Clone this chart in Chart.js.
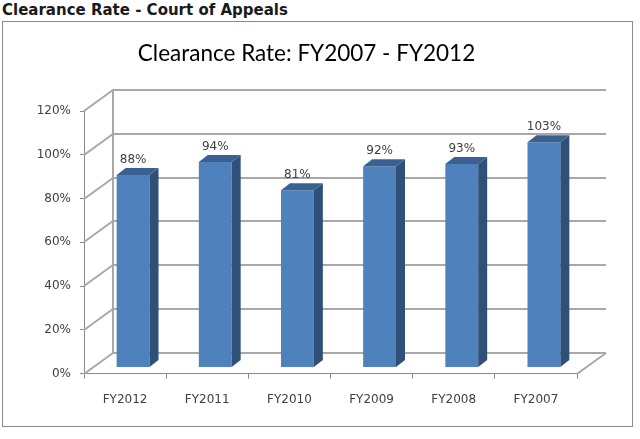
<!DOCTYPE html>
<html lang="en">
<head>
  <meta charset="UTF-8" />
  <title>Clearance Rate - Court of Appeals</title>
  <script src="https://cdn.jsdelivr.net/npm/chart.js"></script>
  <style>
    html, body {
      margin: 0;
      padding: 0;
      background: #ffffff;
    }
    body {
      width: 640px;
      height: 439px;
      position: relative;
      overflow: hidden;
      font-family: 'DejaVu Sans', sans-serif;
    }
    .heading {
      position: absolute;
      left: 2px;
      top: 0;
      font-size: 15px;
      font-weight: bold;
      line-height: 20px;
      color: #1a1a1a;
      white-space: nowrap;
    }
    .box {
      position: absolute;
      left: 2px;
      top: 21px;
      width: 629px;
      height: 404px;
      border: 1px solid #8a8a8a;
    }
    .box canvas { display: block; }
  </style>
</head>
<body>
  <div class="heading">Clearance Rate - Court of Appeals</div>
  <div class="box"><canvas id="rateChart" width="629" height="404"></canvas></div>

  <script>
    // data
    const fiscalYears = ["FY2012", "FY2011", "FY2010", "FY2009", "FY2008", "FY2007"];
    const clearanceRates = [88, 94, 81, 92, 93, 103];
    const yTicks = [0, 20, 40, 60, 80, 100, 120];

    // fake 3D look (pixel offsets)
    const WALL = { dx: 29, dy: -21 };      // back wall depth
    const SHIFT = { dx: 8, dy: -6 };       // bars sit a bit behind the front axis
    const DEPTH = { dx: 9, dy: -7 };       // bar thickness
    const FRONT = "#4f81bd", SIDE = "#2f5179", TOP = "#3b6193";

    const threeD = {
      id: "threeD",
      beforeDatasetsDraw(chart) {
        const { ctx, chartArea: a, scales: { y } } = chart;
        ctx.save();
        ctx.strokeStyle = "#a8a8a8";
        ctx.lineWidth = 2;
        ctx.beginPath();
        yTicks.forEach(v => {
          const py = Math.round(y.getPixelForValue(v));
          ctx.moveTo(a.left, py);
          ctx.lineTo(a.left + WALL.dx, py + WALL.dy);
          ctx.lineTo(a.right + WALL.dx, py + WALL.dy);
        });
        const bx = Math.round(a.left) + WALL.dx;
        ctx.moveTo(bx, Math.round(a.top) + WALL.dy);
        ctx.lineTo(bx, Math.round(a.bottom) + WALL.dy);
        ctx.moveTo(a.right, Math.round(a.bottom));
        ctx.lineTo(a.right + WALL.dx, Math.round(a.bottom) + WALL.dy);
        ctx.stroke();
        ctx.restore();
      },
      beforeDatasetDraw(chart) {
        chart.ctx.save();
        chart.ctx.translate(SHIFT.dx, SHIFT.dy);
      },
      afterDatasetDraw(chart, args) {
        const ctx = chart.ctx;
        args.meta.data.forEach((bar, i) => {
          const { x, y, base, width } = bar.getProps(["x", "y", "base", "width"], true);
          const l = x - width / 2, r = x + width / 2;
          // side face
          ctx.fillStyle = SIDE;
          ctx.beginPath();
          ctx.moveTo(r, y);
          ctx.lineTo(r + DEPTH.dx, y + DEPTH.dy);
          ctx.lineTo(r + DEPTH.dx, base + DEPTH.dy);
          ctx.lineTo(r, base);
          ctx.closePath();
          ctx.fill();
          // top face
          ctx.fillStyle = TOP;
          ctx.beginPath();
          ctx.moveTo(l, y);
          ctx.lineTo(l + DEPTH.dx, y + DEPTH.dy);
          ctx.lineTo(r + DEPTH.dx, y + DEPTH.dy);
          ctx.lineTo(r, y);
          ctx.closePath();
          ctx.fill();
          // value label
          ctx.fillStyle = "#404040";
          ctx.font = '12px "DejaVu Sans"';
          ctx.textAlign = "center";
          ctx.textBaseline = "bottom";
          ctx.fillText(clearanceRates[i] + "%", x, y + DEPTH.dy - 2);
        });
        ctx.restore();
      }
    };

    Chart.defaults.font.family = "'DejaVu Sans', sans-serif";
    Chart.defaults.font.size = 12;
    Chart.defaults.color = "#404040";

    new Chart(document.getElementById("rateChart"), {
      type: "bar",
      data: {
        labels: fiscalYears,
        datasets: [{
          label: "Clearance Rate",
          data: clearanceRates,
          backgroundColor: FRONT,
          borderWidth: 0,
          categoryPercentage: 1,
          barPercentage: 0.4
        }]
      },
      options: {
        responsive: false,
        animation: false,
        layout: { padding: { left: 33, right: 55, top: 0, bottom: 5 } },
        plugins: {
          legend: { display: false },
          tooltip: { enabled: false },
          title: {
            display: true,
            text: "Clearance Rate: FY2007 - FY2012",
            color: "#000000",
            font: { family: "Lato", size: 22.5, weight: "normal" },
            padding: { top: 18, bottom: 44 }
          }
        },
        scales: {
          x: {
            offset: true,
            grid: { display: true, drawOnChartArea: false, color: "#8a8a8a", tickLength: 5, offset: true },
            border: { display: true, color: "#8a8a8a" },
            ticks: { padding: 14, color: "#404040" }
          },
          y: {
            min: 0,
            max: 120,
            afterFit: s => { s.width = 48; },
            grid: { display: true, drawOnChartArea: false, color: "#8a8a8a", tickLength: 4 },
            border: { display: true, color: "#8a8a8a" },
            ticks: {
              stepSize: 20,
              padding: 9,
              color: "#404040",
              callback: v => v + "%"
            }
          }
        }
      },
      plugins: [threeD]
    });
  </script>
</body>
</html>
